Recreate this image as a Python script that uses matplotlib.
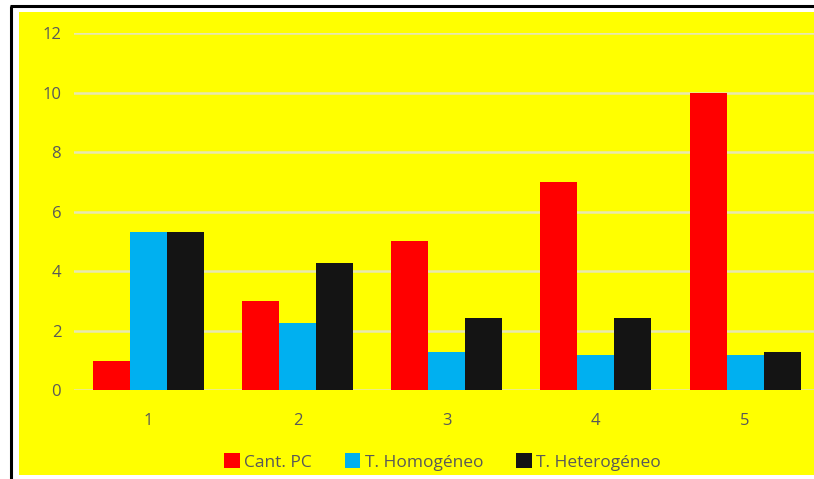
import matplotlib
matplotlib.use("Agg")
import matplotlib.pyplot as plt
from matplotlib.patches import Rectangle
import numpy as np

categories = ["1", "2", "3", "4", "5"]
series_names = ["Cant. PC", "T. Homogéneo", "T. Heterogéneo"]
cant_pc = [1, 3, 5, 7, 10]
t_homogeneo = [5.3, 2.27, 1.27, 1.17, 1.18]
t_heterogeneo = [5.3, 4.29, 2.42, 2.42, 1.3]
y_ticks = [0, 2, 4, 6, 8, 10, 12]

colors = ["#FF0000", "#00B0F0", "#141414"]
text_color = "#595959"
yellow = "#FFFF00"

plt.rcParams['font.family'] = ['Open Sans', 'DejaVu Sans']

W, H = 814, 479
fig = plt.figure(figsize=(W / 100, H / 100), dpi=100)
fig.patch.set_facecolor("white")

# background axes for yellow area and border
bg = fig.add_axes([0, 0, 1, 1], zorder=-5)
bg.set_xlim(0, W)
bg.set_ylim(H, 0)
bg.axis("off")
bg.add_patch(Rectangle((18.5, 12), W - 18.5, 475 - 12, facecolor=yellow, edgecolor="none"))
bg.plot([10, W], [6, 6], color="black", lw=2.2, solid_capstyle="butt")
bg.plot([11, 11], [6, H], color="black", lw=2.2, solid_capstyle="butt")

left = 73.7 / W
width = 746 / W
bottom = 1 - 390.3 / H
height = (390.3 - 33) / H
ax = fig.add_axes([left, bottom, width, height], zorder=1)
ax.set_facecolor("none")

x = np.arange(len(categories))
bw = 0.248
data = [cant_pc, t_homogeneo, t_heterogeneo]
for i, (vals, name, c) in enumerate(zip(data, series_names, colors)):
    ax.bar(x + (i - 1) * bw, vals, width=bw, color=c, label=name, zorder=3)

ax.set_xlim(-0.5, len(categories) - 0.5)
ax.set_ylim(0, 12)
ax.set_yticks(y_ticks)
ax.set_xticks(x)
ax.set_xticklabels(categories)
ax.yaxis.grid(True, color="#E8E8B0", lw=1.8, zorder=1)
ax.set_axisbelow(True)
for s in ax.spines.values():
    s.set_visible(False)
ax.tick_params(axis="both", length=0, colors=text_color, labelsize=12)
ax.tick_params(axis="y", pad=9)
ax.tick_params(axis="x", pad=16)

handles, labels = ax.get_legend_handles_labels()
leg = fig.legend(handles, labels, loc="center", bbox_to_anchor=(442.5 / W, 1 - 462 / H),
                 ncol=3, frameon=False, fontsize=12.5, handlelength=0.9, handleheight=0.9,
                 handletextpad=0.25, columnspacing=1.9, borderpad=0)
for t in leg.get_texts():
    t.set_color(text_color)

fig.savefig("out.png", dpi=100, facecolor=fig.get_facecolor())
